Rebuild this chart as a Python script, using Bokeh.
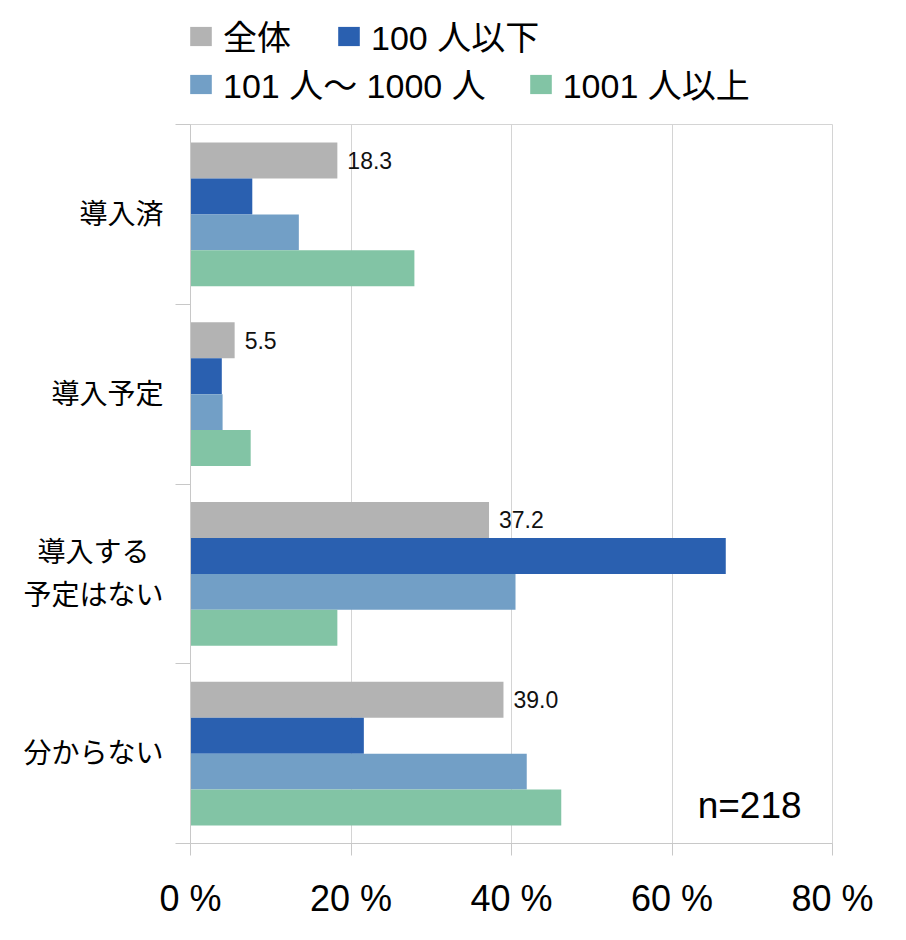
from bokeh.plotting import figure
from bokeh.layouts import column
from bokeh.models import (ColumnDataSource, FixedTicker, Legend, LegendItem, Label,
                          Range1d)
from bokeh.embed import file_html
from bokeh.resources import INLINE

categories = ["導入済", "導入予定", "導入する\u2002\n予定はない", "分からない"]
series_names = ["全体", "100 人以下", "101 人〜 1000 人", "1001 人以上"]
total = [18.3, 5.5, 37.2, 39.0]
small = [7.7, 3.9, 66.7, 21.6]
medium = [13.5, 4.0, 40.5, 41.9]
large = [27.9, 7.5, 18.3, 46.2]
x_ticks = [0, 20, 40, 60, 80]
x_tick_labels = ["0 %", "20 %", "40 %", "60 %", "80 %"]
sample_note = "n=218"

colors = ["#b3b3b3", "#2a60b0", "#729fc6", "#82c4a5"]
offsets = [0.3, 0.1, -0.1, -0.3]
FONT = "'Liberation Sans', 'Noto Sans CJK JP'"

n = len(categories)
centers = [n - 0.5 - i for i in range(n)]

# ---------------- main chart ----------------
p = figure(width=900, height=810, output_backend="svg", toolbar_location=None,
           x_range=Range1d(0, 80), y_range=Range1d(0, n),
           min_border_left=190, min_border_right=68, min_border_top=4,
           min_border_bottom=87)

for vals, col, off in zip([total, small, medium, large], colors, offsets):
    src = ColumnDataSource(dict(y=[c + off for c in centers], right=vals))
    p.hbar(y="y", right="right", left=0, height=0.2, source=src,
           fill_color=col, line_color=None)

lab_src = ColumnDataSource(dict(x=total, y=[c + offsets[0] for c in centers],
                                t=[f"{v:.1f}" for v in total]))
p.text(x="x", y="y", text="t", source=lab_src, x_offset=10,
       text_baseline="middle", text_align="left", text_font_size="23px",
       text_color="#111111", text_font={"value": "Liberation Sans"})

xa = p.xaxis[0]
xa.ticker = FixedTicker(ticks=x_ticks, minor_ticks=[])
xa.major_label_overrides = {t: l for t, l in zip(x_ticks, x_tick_labels)}
xa.major_label_text_font_size = "36px"
xa.major_label_text_font = FONT
xa.major_label_text_color = "#000000"
xa.major_tick_out = 12
xa.major_tick_in = 0
xa.major_label_standoff = 22
xa.axis_line_color = "#c8c8c8"
xa.major_tick_line_color = "#c8c8c8"

ya = p.yaxis[0]
ya.ticker = FixedTicker(ticks=centers, minor_ticks=list(range(n + 1)))
ya.major_label_overrides = {c: lab for c, lab in zip(centers, categories)}
ya.major_label_text_font_size = "28px"
ya.major_label_text_font = FONT
ya.major_label_text_color = "#000000"
ya.major_label_text_line_height = 1.4
ya.major_tick_out = 0
ya.major_tick_in = 0
ya.minor_tick_out = 15
ya.minor_tick_in = 0
ya.major_label_standoff = 12
ya.axis_line_color = "#c8c8c8"
ya.minor_tick_line_color = "#c8c8c8"

p.xgrid.ticker = FixedTicker(ticks=x_ticks)
p.xgrid.grid_line_color = "#d4d4d4"
p.ygrid.grid_line_color = None
p.outline_line_color = "#d4d4d4"

note = Label(x=63.2, y=0.21, text=sample_note, text_font_size="37px",
             text_font="'Liberation Sans'",
             text_baseline="middle", text_color="#000000")
p.add_layout(note)

# ---------------- legend strip ----------------
lg = figure(width=900, height=120, output_backend="svg", toolbar_location=None,
            x_range=Range1d(0, 1), y_range=Range1d(0, 1),
            x_axis_location=None, y_axis_location=None,
            min_border_left=0, min_border_right=0, min_border_top=0, min_border_bottom=0)
lg.grid.grid_line_color = None
lg.outline_line_color = None
leg_renderers = []
for col in colors:
    # swatch-only renderers: their single bar lies outside the visible range
    r = lg.hbar(y=[-5], right=[1], left=0, height=0.2, fill_color=col, line_color=None)
    leg_renderers.append(r)

def make_legend(idx, spacing, loc):
    return Legend(items=[LegendItem(label=series_names[i], renderers=[leg_renderers[i]]) for i in idx],
                  location=loc, orientation="horizontal", padding=0, margin=0,
                  spacing=spacing, glyph_width=27, glyph_height=24,
                  label_standoff=9, label_text_font_size="34px", label_text_font=FONT,
                  label_text_color="#000000", background_fill_alpha=0,
                  border_line_color=None, label_text_baseline="middle")

lg.add_layout(make_legend([0, 1], 44, (-3, 60)), "center")
lg.add_layout(make_legend([2, 3], 41, (-3, 12)), "center")

layout = column(lg, p, spacing=0)
open("out.html", "w").write(file_html(layout, INLINE))
